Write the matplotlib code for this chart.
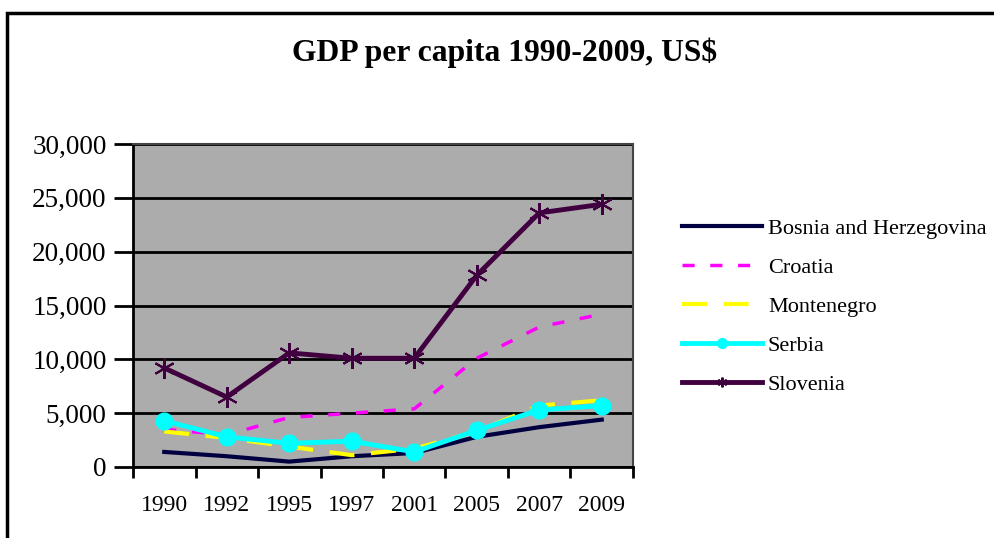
import matplotlib
matplotlib.use("Agg")
import matplotlib.pyplot as plt
from matplotlib.patches import Rectangle
import numpy as np

years = ["1990", "1992", "1995", "1997", "2001", "2005", "2007", "2009"]
bosnia = [1400, 1000, 500, 1000, 1300, 2800, 3700, 4400]
croatia = [3500, 3000, 4600, 5000, 5400, 10100, 13000, 14200]
montenegro = [3300, 2700, 1900, 1100, 1700, 3300, 5700, 6200]
serbia = [4300, 2800, 2200, 2400, 1400, 3400, 5300, 5700]
slovenia = [9200, 6500, 10600, 10100, 10100, 17800, 23600, 24400]
yticks = [0, 5000, 10000, 15000, 20000, 25000, 30000]

plt.rcParams['font.family'] = ['Liberation Serif', 'DejaVu Serif']

fig = plt.figure(figsize=(9.95, 5.38), dpi=100)
W, H = 995, 538
ax = fig.add_axes([133 / W, 1 - 467 / H, 500 / W, (467 - 144) / H])
ax.set_facecolor('#acacac')

x = np.arange(len(years))
ax.plot(x, bosnia, color='#000040', lw=3, label='Bosnia and Herzegovina', zorder=3)
ax.plot(x, croatia, color='#ff00ff', lw=2.5, ls=(0, (3.5, 4.5)), label='Croatia', zorder=3)
ax.plot(x, montenegro, color='#ffff00', lw=3, ls=(0, (6, 4)), label='Montenegro', zorder=3)
ax.plot(x, serbia, color='#00ffff', lw=3.5, marker='o', ms=12, mec='#00ffff',
        label='Serbia', zorder=4)
ax.plot(x, slovenia, color='#400040', lw=3.5, marker=(6, 2, 0), ms=15, mew=1.5,
        mec='#400040', label='Slovenia', zorder=5)

ax.set_xlim(-0.5, len(years) - 0.5)
ax.set_ylim(0, 30000)
ax.set_yticks(yticks)
ax.set_yticklabels([f"{v:,}" for v in yticks], fontsize=19.5)
ax.yaxis.grid(True, color='black', lw=2)
ax.set_axisbelow(True)

ax.set_xticks(x)
ax.set_xticklabels(years, fontsize=17)
ax.set_xticks(np.arange(-0.5, len(years), 1.0), minor=True)
ax.tick_params(axis='x', which='major', length=0, pad=20)
ax.tick_params(axis='x', which='minor', length=8, width=2, color='black')
ax.tick_params(axis='y', length=14, width=2, pad=5)

for s in ['left', 'bottom']:
    ax.spines[s].set_linewidth(2)
    ax.spines[s].set_color('black')
for s in ['top', 'right']:
    ax.spines[s].set_linewidth(1.5)
    ax.spines[s].set_color('#444444')

fig.text(505 / W, 1 - 53 / H, "GDP per capita 1990-2009, US$", ha='center', va='center',
         fontsize=22.8, fontweight='bold')

leg = fig.legend(loc='upper left', bbox_to_anchor=(682 / W, 1 - 218 / H), frameon=False,
                 fontsize=16, handlelength=3.6, handletextpad=0.27, labelspacing=0.83,
                 borderaxespad=0, borderpad=0)
for h in leg.legend_handles:
    h.set_markersize(7)

fig.patches.append(Rectangle((7 / W, -0.05), 1.2, 1 - 13 / H + 0.05, transform=fig.transFigure,
                             fill=False, edgecolor='black', lw=2.5))

fig.savefig('out.png', dpi=100)
